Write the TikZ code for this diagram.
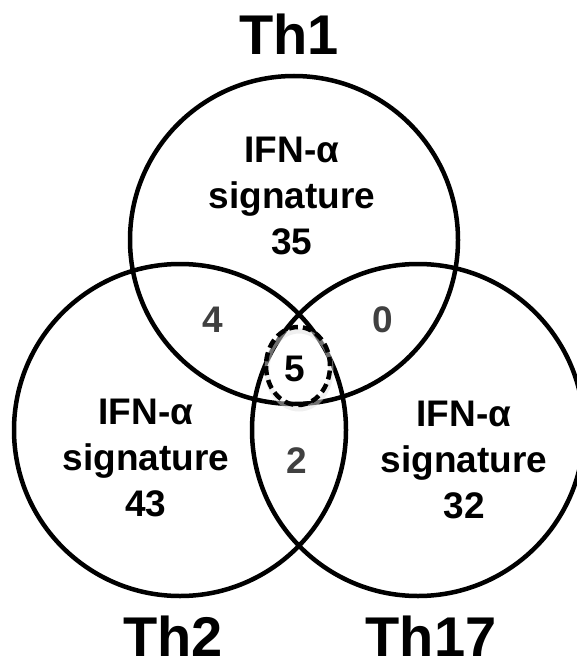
\documentclass[tikz,border=0pt]{standalone}
\usepackage{fontspec}
\setmainfont{Liberation Sans}
\usepackage{xcolor}
\usepackage{tikz}
\usetikzlibrary{positioning}

\definecolor{numgray}{HTML}{404040}

\begin{document}
\begin{tikzpicture}[
        x=1pt, y=-1pt,
        every node/.style={font=\fontsize{37}{46}\selectfont\bfseries, inner sep=0pt},
        setc/.style={draw, circle, line width=4.5pt, minimum size=332pt},
        sig/.style={align=center, anchor=north},
        num/.style={text=numgray},
        ttl/.style={font=\fontsize{56}{60}\selectfont\bfseries},
        core/.style={line width=4.5pt, dash pattern=on 9pt off 5pt},
        coreshade/.style={line width=5pt, gray!25, opacity=0.5}
    ]
        \useasboundingbox (0,0) rectangle (577,668);
        \node[setc, minimum size=328pt] (th1c) at (294,240) {};
        \node[setc] (th2c) at (180,430) {};
        \node[setc] (th17c) at (418,430) {};

        \node[ttl, above=19pt of th1c, xshift=-5pt] (th1) {Th1};
        \node[ttl, below=17pt of th2c, xshift=-7pt] (th2) {Th2};
        \node[ttl, below=17pt of th17c, xshift=13pt] (th17) {Th17};

        \node[sig] (sig1) at (292,137) {IFN-α\\signature\\35};
        \node[sig] (sig2) at (146,399) {IFN-α\\signature\\43};
        \node[sig] (sig17) at (464,401) {IFN-α\\signature\\32};

        \node[num] (n12) at (213,320) {4};
        \node[num] (n117) at (383,320) {0};
        \node[num] (n217) at (297,461) {2};
        \node (n5) at (295,369) {5};

        \draw[coreshade] ([shift={(4,1)}]n5) ellipse [x radius=32pt, y radius=39pt];
        \draw[core] ([shift={(3,-3)}]n5) ellipse [x radius=32pt, y radius=39pt];
    \end{tikzpicture}
\end{document}
